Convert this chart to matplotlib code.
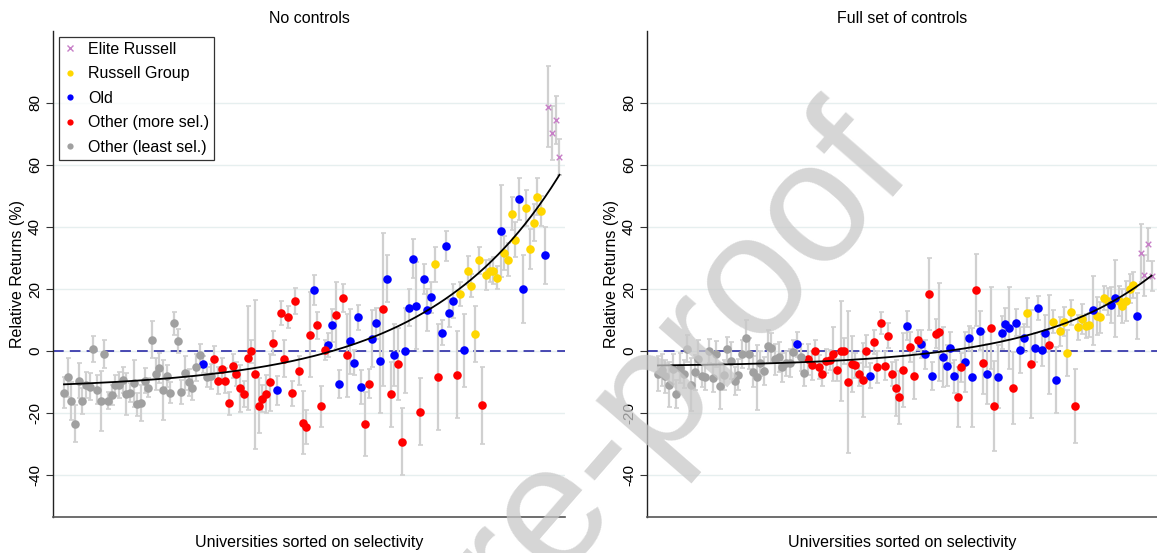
import numpy as np
import matplotlib
matplotlib.use("Agg")
import matplotlib.pyplot as plt
from matplotlib.lines import Line2D

plt.rcParams['font.family'] = ['Liberation Sans', 'DejaVu Sans']

# universities in selectivity order; g=least sel., r=more sel., b=old, y=russell, e=elite
group = list(
    "gggggggggggggggggggggggggggggggggggggg"
    "bgg" "rrrrrrrrrrrrrrrrr" "b" "rrrrrrrrr" "b" "rrr" "bb" "r" "b" "rr"
    "bbbb" "rr" "bbb" "r" "b" "r" "b" "rr" "bbbb" "r" "bbb" "y" "r" "bbbb"
    "r" "y" "b" "yyyy" "r" "yyyy" "b" "yyyy" "bb" "yyyyy" "b" "eeee"
)

# no controls: point estimates and half-widths of the CIs
est_none = [
    -13.4, -8.4, -16.1, -23.4, -9.5, -16.2, -10.9, -11.5, 0.8, -12.4,
    -16.2, -0.9, -16.0, -14.2, -11.1, -10.9, -9.4, -13.8, -13.4, -10.4,
    -17.2, -16.8, -9.6, -11.8, 3.7, -7.5, -5.5, -12.6, -8.1, -13.4,
    8.9, 3.2, -13.2, -7.0, -10.1, -12.0, -5.2, -1.3, -4.3, -8.5,
    -8.1, -2.7, -9.5, -5.9, -9.5, -16.9, -4.9, -7.4, -12.0, -13.9,
    -2.2, -0.1, -7.5, -17.6, -15.4, -13.8, -10.1, 2.6, -12.7, 12.3,
    -2.5, 10.9, -13.6, 16.1, -6.3, -23.1, -24.5, 5.3, 19.7, 8.3,
    -17.8, 0.2, 1.9, 8.3, 11.5, -10.6, 17.1, -1.3, 3.1, -3.8,
    10.9, -11.5, -23.5, -10.5, 4.0, 8.9, -3.1, 13.4, 23.3, -13.9,
    -1.3, -4.3, -29.2, 0.1, 14.0, 29.8, 14.6, -19.5, 23.2, 13.3,
    17.3, 28.0, -8.4, 5.9, 33.9, 12.2, 16.1, -7.7, 18.4, 0.2,
    25.9, 21.1, 5.5, 29.2, -17.5, 24.6, 25.9, 25.9, 23.7, 38.8,
    31.6, 29.5, 44.3, 35.9, 49.0, 20.1, 46.1, 33.0, 41.4, 49.8,
    45.2, 30.8, 78.8, 70.3, 74.5, 62.5,
]
ci_none = [
    5.0, 6.3, 6.0, 6.0, 5.6, 4.2, 4.3, 4.4, 4.2, 4.8,
    9.7, 4.5, 2.8, 3.2, 3.5, 4.3, 4.2, 6.7, 3.0, 7.5,
    3.7, 5.9, 4.0, 3.0, 6.0, 5.1, 4.8, 9.7, 3.5, 3.5,
    3.8, 3.8, 4.0, 5.4, 4.3, 3.8, 4.3, 3.5, 2.7, 3.2,
    4.0, 4.3, 4.3, 3.8, 4.0, 3.8, 3.8, 3.8, 7.5, 4.3,
    16.7, 3.8, 24.0, 8.9, 4.3, 6.2, 9.1, 4.0, 4.6, 3.8,
    5.9, 3.5, 4.0, 4.3, 4.8, 10.2, 5.4, 13.7, 4.8, 4.3,
    6.6, 3.2, 3.8, 5.4, 10.8, 4.6, 4.6, 13.4, 10.5, 4.0,
    4.0, 5.5, 10.2, 4.6, 9.1, 5.1, 17.0, 24.8, 7.5, 10.5,
    10.0, 11.6, 10.8, 13.7, 5.9, 6.3, 14.0, 10.8, 4.8, 6.7,
    5.1, 5.6, 17.0, 4.0, 4.8, 4.6, 5.6, 14.0, 4.0, 11.8,
    4.6, 3.8, 8.9, 4.3, 12.4, 4.8, 3.8, 4.3, 3.8, 14.8,
    5.4, 5.4, 5.4, 5.6, 6.7, 11.0, 5.9, 6.5, 5.9, 5.9,
    4.8, 9.2, 13.0, 8.6, 7.6, 5.9,
]

# full set of controls
est_full = [
    -7.3, -6.1, -8.2, -10.8, -5.7, -13.8, -5.4, -7.4, 0.8, -10.8,
    -6.8, -2.5, -8.1, -8.4, 0.0, -8.7, -1.0, -11.3, -7.7, 0.5,
    -3.1, -9.6, -7.6, -0.9, 4.2, -0.8, -6.6, -8.5, -4.0, -6.4,
    1.5, 0.9, -2.6, -1.8, -5.3, -3.9, -3.9, -0.2, 2.2, -2.0,
    -7.0, -2.7, -4.6, 0.1, -5.1, -7.5, -3.2, -2.9, -1.0, -6.2,
    0.0, 0.0, -9.9, -4.2, -4.6, -7.5, -9.4, 0.0, -8.0, 3.0,
    -5.1, 9.0, -4.7, 4.9, -7.4, -11.9, -14.9, -6.2, 8.2, 1.4,
    -8.0, 3.6, 2.2, -1.1, 18.4, -8.0, 5.6, 6.1, -1.8, -4.7,
    1.1, -8.2, -14.9, -5.3, -3.5, 4.1, -8.5, 19.8, 6.6, -4.0,
    -7.5, 7.5, -17.7, -8.3, 5.9, 8.8, 7.4, -11.8, 9.1, 0.3,
    4.2, 12.4, -4.2, 1.1, 13.8, 0.4, 5.7, 2.0, 9.5, -9.4,
    6.3, 9.5, -0.6, 12.5, -17.7, 7.7, 10.3, 8.1, 8.4, 13.1,
    11.3, 10.9, 17.1, 16.0, 14.9, 17.0, 16.1, 14.5, 16.2, 20.1,
    21.3, 11.3, 31.5, 24.4, 34.4, 24.1,
]
ci_full = [
    5.6, 5.1, 5.4, 7.4, 4.8, 4.6, 4.8, 4.6, 4.3, 8.6,
    5.6, 5.9, 3.5, 4.0, 4.0, 4.6, 4.3, 7.5, 4.8, 4.0,
    5.9, 4.6, 5.1, 4.6, 5.8, 5.1, 5.1, 10.5, 4.0, 4.6,
    5.4, 4.8, 5.0, 4.8, 4.6, 4.0, 4.6, 3.8, 4.0, 4.3,
    4.2, 5.1, 4.6, 3.5, 3.8, 3.8, 3.8, 3.2, 8.6, 3.5,
    16.0, 4.3, 22.9, 8.9, 4.0, 3.8, 12.0, 5.1, 4.0, 3.8,
    5.1, 3.5, 4.6, 4.0, 4.0, 8.9, 8.6, 12.0, 4.6, 4.8,
    7.3, 3.2, 4.6, 4.6, 11.6, 4.6, 4.6, 15.9, 9.7, 6.5,
    5.1, 5.4, 9.7, 4.6, 9.7, 4.0, 15.9, 11.6, 6.2, 10.0,
    9.7, 13.2, 14.5, 10.2, 5.4, 5.1, 13.2, 11.6, 4.3, 7.5,
    4.6, 4.8, 17.5, 4.6, 3.8, 5.1, 6.0, 16.0, 3.8, 10.6,
    4.6, 4.6, 7.5, 4.0, 12.0, 4.0, 4.8, 4.0, 3.8, 11.0,
    6.2, 5.0, 3.8, 4.3, 5.9, 12.4, 4.8, 5.4, 6.5, 4.6,
    4.3, 7.5, 9.4, 6.5, 5.4, 4.8,
]

styles = {
    'e': ("Elite Russell", "#c77fc7", "x"),
    'y': ("Russell Group", "#ffd700", "o"),
    'b': ("Old", "#0000ff", "o"),
    'r': ("Other (more sel.)", "#ff0000", "o"),
    'g': ("Other (least sel.)", "#a0a0a0", "o"),
}


def fit_curve(x, y, se):
    # inverse-variance weighted fit of a + b*exp(c*x), scanning c
    w = 1.0 / se
    best = None
    for c in np.linspace(0.002, 0.08, 400):
        A = np.column_stack([np.ones_like(x), np.exp(c * x)])
        coef, *_ = np.linalg.lstsq(A * w[:, None], y * w, rcond=None)
        sse = np.sum(((A @ coef - y) * w) ** 2)
        if best is None or sse < best[0]:
            best = (sse, c, coef)
    _, c, coef = best
    xs = np.linspace(x.min(), x.max(), 300)
    return xs, coef[0] + coef[1] * np.exp(c * xs)


def draw_panel(ax, est, ci, title, legend=False):
    est = np.array(est)
    ci = np.array(ci)
    rank = np.arange(1, len(est) + 1, dtype=float)
    codes = np.array(group)

    ax.errorbar(rank, est, yerr=ci, fmt='none', ecolor='#d0d0d0',
                elinewidth=1.6, capsize=1.8, capthick=1.2, zorder=2)
    for code, (label, color, marker) in styles.items():
        m = codes == code
        if marker == "x":
            ax.scatter(rank[m], est[m], marker='x', s=16, color=color,
                       linewidths=1.0, zorder=3)
        else:
            ax.scatter(rank[m], est[m], marker='o', s=38, color=color,
                       linewidths=0, zorder=3)

    xs, ys = fit_curve(rank, est, ci)
    ax.plot(xs, ys, color='black', lw=1.3, zorder=4)
    ax.axhline(0, color='#1a1aa0', lw=1.1, dashes=(7, 4), zorder=1)

    ax.set_xlim(-2, 137.5)
    ax.set_ylim(-53.5, 103.2)
    ax.set_yticks([-40, -20, 0, 20, 40, 60, 80])
    ax.set_yticklabels(["-40", "-20", "0", "20", "40", "60", "80"],
                       rotation=90, va='center', fontsize=11)
    ax.set_xticks([])
    ax.grid(axis='y', color='#e6efef', lw=1.0, zorder=0)
    ax.set_axisbelow(True)
    ax.tick_params(axis='y', length=5, width=0.8, color='#333333', pad=3)
    for side in ('top', 'right'):
        ax.spines[side].set_visible(False)
    ax.spines['left'].set_color('#222222')
    ax.spines['bottom'].set_color('#555555')
    ax.spines['left'].set_linewidth(1.0)
    ax.spines['bottom'].set_linewidth(1.2)
    ax.set_title(title, fontsize=11.5, pad=6)
    ax.set_ylabel("Relative Returns (%)", fontsize=11.5, labelpad=2)
    ax.set_xlabel("Universities sorted on selectivity", fontsize=11.5, labelpad=13)

    if legend:
        handles = []
        for code, (label, color, marker) in styles.items():
            if marker == "x":
                h = Line2D([], [], ls='none', marker='x', ms=4, mew=1.0, color=color)
            else:
                h = Line2D([], [], ls='none', marker='o', ms=4.5, mew=0, color=color)
            handles.append(h)
        leg = ax.legend(handles, [s[0] for s in styles.values()], loc='upper left',
                        bbox_to_anchor=(0.012, 0.988), fontsize=11.5, frameon=True,
                        fancybox=False, edgecolor='black', handlelength=0.8,
                        handletextpad=0.7, borderpad=0.3, labelspacing=0.6,
                        borderaxespad=0)
        leg.get_frame().set_linewidth(0.9)


fig = plt.figure(figsize=(11.57, 5.53), dpi=100)
ax1 = fig.add_axes([0.0458, 0.0651, 0.4425, 0.879])
ax2 = fig.add_axes([0.5592, 0.0651, 0.4408, 0.879])
draw_panel(ax1, est_none, ci_none, "No controls", legend=True)
draw_panel(ax2, est_full, ci_full, "Full set of controls")

fig.text(882 / 1157, 1 - 142 / 553, "Journal Pre-proof", fontsize=124,
         color='#c8c8c8', alpha=0.75, rotation=49, rotation_mode='anchor',
         ha='right', va='center', zorder=10)

fig.savefig("out.png", dpi=100)
